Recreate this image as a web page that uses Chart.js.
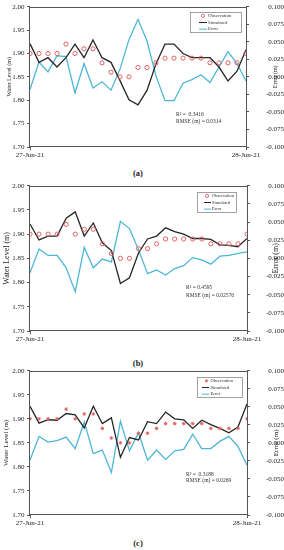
<!DOCTYPE html>
<html>
<head>
<meta charset="utf-8">
<script src="https://cdn.jsdelivr.net/npm/chart.js@4.4.1/dist/chart.umd.min.js"></script>
<style>
  html, body { margin: 0; padding: 0; background: #fff; }
  body { width: 284px; height: 550px; position: relative; overflow: hidden; font-family: 'Liberation Serif', serif; }
  canvas { position: absolute; left: 0; }
  .cap { position: absolute; left: 0; width: 276px; text-align: center; font-weight: bold; font-size: 8.5px; line-height: 10px; color: #222; }
</style>
</head>
<body>
<canvas id="chartA" width="284" height="160" style="top:0px"></canvas>
<div class="cap" style="top:168px">(a)</div>
<canvas id="chartB" width="284" height="165" style="top:179px"></canvas>
<div class="cap" style="top:358px">(b)</div>
<canvas id="chartC" width="284" height="164" style="top:364px"></canvas>
<div class="cap" style="top:538px">(c)</div>

<script>
// hourly steps over one day
const hours = [0, 1, 2, 3, 4, 5, 6, 7, 8, 9, 10, 11, 12, 13, 14, 15, 16, 17, 18, 19, 20, 21, 22, 23, 24];
const dateTicks = [0, 24];
const dateLabels = ['27-Jun-21', '28-Jun-21'];
const levelTicks = [1.70, 1.75, 1.80, 1.85, 1.90, 1.95, 2.00];
const errorTicks = [-0.100, -0.075, -0.050, -0.025, 0.000, 0.025, 0.050, 0.075, 0.100];

const observed = [1.90, 1.90, 1.90, 1.90, 1.92, 1.90, 1.91, 1.91, 1.88, 1.86, 1.85, 1.85, 1.87, 1.87, 1.88, 1.89, 1.89, 1.89, 1.89, 1.89, 1.88, 1.88, 1.88, 1.88, 1.90];

const simulatedA = [1.921, 1.881, 1.891, 1.871, 1.891, 1.920, 1.891, 1.929, 1.891, 1.881, 1.842, 1.801, 1.790, 1.821, 1.878, 1.920, 1.920, 1.900, 1.891, 1.891, 1.891, 1.871, 1.841, 1.862, 1.908];
const errorA = [-0.018, 0.021, 0.007, 0.030, 0.029, -0.023, 0.019, -0.016, -0.007, -0.019, 0.011, 0.053, 0.082, 0.051, 0.001, -0.034, -0.034, -0.009, -0.004, 0.003, -0.008, 0.014, 0.036, 0.019, -0.006];

const simulatedB = [1.921, 1.888, 1.896, 1.896, 1.933, 1.946, 1.896, 1.923, 1.882, 1.866, 1.798, 1.810, 1.861, 1.890, 1.896, 1.913, 1.905, 1.900, 1.891, 1.891, 1.889, 1.878, 1.877, 1.874, 1.891];
const errorB = [-0.020, 0.013, 0.004, 0.004, -0.013, -0.046, 0.015, -0.013, -0.001, -0.005, 0.051, 0.041, 0.012, -0.021, -0.016, -0.023, -0.014, -0.010, 0.001, -0.002, -0.008, 0.003, 0.004, 0.007, 0.009];

const simulatedC = [1.926, 1.891, 1.898, 1.897, 1.911, 1.908, 1.881, 1.926, 1.890, 1.902, 1.820, 1.861, 1.856, 1.894, 1.890, 1.914, 1.900, 1.898, 1.880, 1.897, 1.888, 1.880, 1.871, 1.883, 1.931];
const errorC = [-0.024, 0.009, 0.001, 0.003, 0.008, -0.008, 0.029, -0.015, -0.010, -0.041, 0.030, -0.011, 0.014, -0.024, -0.010, -0.023, -0.011, -0.009, 0.012, -0.008, -0.008, 0.002, 0.009, -0.005, -0.031];

const serif = "'Liberation Serif', 'Times New Roman', serif";
const obsColor = '#e06262';
const simColor = '#262626';
const errColor = '#4db6d6';

// frame, rotated axis titles, legend box and statistics text
const panelDecor = {
    id: 'panelDecor',
    afterDraw(chart, args, opts) {
        const ctx = chart.ctx;
        const a = chart.chartArea;
        ctx.save();

        ctx.strokeStyle = '#555';
        ctx.lineWidth = 1;
        ctx.strokeRect(Math.round(a.left) - 0.5, Math.round(a.top) + 0.5, Math.round(a.right - a.left) + 1, Math.round(a.bottom - a.top) - 1);

        ctx.fillStyle = '#222';
        ctx.textAlign = 'center';
        ctx.textBaseline = 'middle';
        ctx.font = opts.titleSize + 'px ' + serif;
        const cy = (a.top + a.bottom) / 2;
        [[opts.leftTitleX, 'Water Level (m)'], [opts.rightTitleX, 'Error (m)']].forEach(([x, text]) => {
            ctx.save();
            ctx.translate(x, cy);
            ctx.rotate(-Math.PI / 2);
            ctx.fillText(text, 0, 0);
            ctx.restore();
        });

        // legend inside the plot
        const L = opts.legend;
        ctx.fillStyle = '#fff';
        ctx.fillRect(L.x, L.y, L.w, L.h);
        ctx.strokeStyle = '#8a8a8a';
        ctx.lineWidth = 0.8;
        ctx.strokeRect(L.x + 0.5, L.y + 0.5, L.w, L.h);
        ctx.font = L.font + 'px ' + serif;
        ctx.textAlign = 'left';
        chart.data.datasets.forEach((ds, i) => {
            const y = L.y + L.h * (i + 0.5) / 3 + 0.5;
            if (ds.showLine === false) {
                ctx.strokeStyle = ds.pointBorderColor;
                ctx.fillStyle = ds.pointBackgroundColor;
                ctx.lineWidth = 0.9;
                Chart.helpers.drawPoint(ctx, { pointStyle: ds.pointStyle, radius: 1.6, borderWidth: 0.9, rotation: 0 }, L.x + L.mx, y);
            } else {
                ctx.strokeStyle = ds.borderColor;
                ctx.lineWidth = 1;
                ctx.beginPath();
                ctx.moveTo(L.x + L.l0, y);
                ctx.lineTo(L.x + L.l1, y);
                ctx.stroke();
            }
            ctx.fillStyle = '#333';
            ctx.fillText(ds.label, L.x + L.tx, y);
        });

        ctx.font = opts.statsSize + 'px ' + serif;
        ctx.fillStyle = '#333';
        opts.stats.forEach((line, i) => {
            ctx.fillText(line, opts.statsX, opts.statsY + i * opts.statsGap);
        });
        ctx.restore();
    }
};

function makePanel(canvasId, simulated, errors, cfg) {
    const canvas = document.getElementById(canvasId);
    if (!canvas) {
        return;
    }
    const toPoints = (vals) => hours.map((h, i) => ({ x: h, y: vals[i] }));

    new Chart(canvas.getContext('2d'), {
        type: 'line',
        data: {
            datasets: [{
                label: 'Observation',
                data: toPoints(observed),
                yAxisID: 'y',
                showLine: false,
                pointStyle: cfg.obsStyle,
                pointRadius: cfg.obsRadius,
                pointBorderWidth: 1,
                pointBorderColor: obsColor,
                pointBackgroundColor: cfg.obsStyle === 'circle' ? 'rgba(255,255,255,0)' : obsColor,
                order: 0
            }, {
                label: 'Simulated',
                data: toPoints(simulated),
                yAxisID: 'y',
                borderColor: simColor,
                borderWidth: 1.3,
                pointRadius: 0,
                tension: 0,
                order: 1
            }, {
                label: 'Error',
                data: toPoints(errors),
                yAxisID: 'y1',
                borderColor: errColor,
                borderWidth: 1.3,
                pointRadius: 0,
                tension: 0,
                order: 2
            }]
        },
        options: {
            responsive: false,
            animation: false,
            layout: { padding: { top: 6, left: 0, right: 0, bottom: 0 } },
            plugins: {
                legend: { display: false },
                tooltip: { enabled: false },
                panelDecor: cfg.decor
            },
            scales: {
                x: {
                    type: 'linear',
                    min: hours[0],
                    max: hours[hours.length - 1],
                    afterBuildTicks: (axis) => { axis.ticks = dateTicks.map(v => ({ value: v })); },
                    afterFit: (scale) => { scale.height = cfg.xHeight; },
                    border: { display: false },
                    grid: { drawOnChartArea: false, tickLength: 3, color: '#555', tickColor: '#555' },
                    ticks: {
                        autoSkip: false,
                        maxRotation: 0,
                        padding: 1,
                        color: '#222',
                        font: { family: serif, size: 7 },
                        callback: (v) => dateLabels[dateTicks.indexOf(v)]
                    }
                },
                y: {
                    position: 'left',
                    min: levelTicks[0],
                    max: levelTicks[levelTicks.length - 1],
                    afterBuildTicks: (axis) => { axis.ticks = levelTicks.map(v => ({ value: v })); },
                    afterFit: (scale) => { scale.width = cfg.leftWidth; },
                    border: { display: false },
                    grid: { drawOnChartArea: false, tickLength: 3, tickColor: '#555' },
                    ticks: {
                        padding: 2.5,
                        color: '#222',
                        font: { family: serif, size: 7 },
                        callback: (v) => v.toFixed(2)
                    }
                },
                y1: {
                    position: 'right',
                    min: errorTicks[0],
                    max: errorTicks[errorTicks.length - 1],
                    afterBuildTicks: (axis) => { axis.ticks = errorTicks.map(v => ({ value: v })); },
                    afterFit: (scale) => { scale.width = cfg.rightWidth; },
                    border: { display: false },
                    grid: { drawOnChartArea: false, tickLength: 3, tickColor: '#555' },
                    ticks: {
                        padding: 0,
                        crossAlign: 'far',
                        color: '#222',
                        font: { family: serif, size: 7 },
                        callback: (v) => (Math.abs(v) < 1e-9 ? 0 : v).toFixed(3)
                    }
                }
            }
        },
        plugins: [panelDecor]
    });
}

makePanel('chartA', simulatedA, errorA, {
    obsStyle: 'circle', obsRadius: 2.1, xHeight: 13, leftWidth: 30, rightWidth: 38,
    decor: {
        titleSize: 6, leftTitleX: 9, rightTitleX: 275.5,
        legend: { x: 190, y: 12, w: 51, h: 20, mx: 13, l0: 9, l1: 17, tx: 18, font: 4.8 },
        stats: ['R\u00B2 =  0.3416', 'RMSE (m) = 0.0314'], statsX: 176, statsY: 115, statsGap: 6.3, statsSize: 5.5
    }
});

makePanel('chartB', simulatedB, errorB, {
    obsStyle: 'circle', obsRadius: 2.1, xHeight: 13, leftWidth: 30, rightWidth: 37,
    decor: {
        titleSize: 8, leftTitleX: 6.5, rightTitleX: 276,
        legend: { x: 197, y: 13, w: 39, h: 20, mx: 10, l0: 7, l1: 14, tx: 15, font: 4.5 },
        stats: ['R\u00B2 = 0.4595', 'RMSE (m) = 0.02576'], statsX: 186, statsY: 109, statsGap: 7.5, statsSize: 5.5
    }
});

makePanel('chartC', simulatedC, errorC, {
    obsStyle: 'star', obsRadius: 1.8, xHeight: 13, leftWidth: 30, rightWidth: 37,
    decor: {
        titleSize: 7, leftTitleX: 6, rightTitleX: 276.5,
        legend: { x: 197, y: 13, w: 45, h: 20, mx: 9.5, l0: 5, l1: 12, tx: 13.5, font: 4.6 },
        stats: ['R\u00B2 =  0.3188', 'RMSE (m) = 0.0269'], statsX: 186, statsY: 110.5, statsGap: 6.5, statsSize: 5.5
    }
});
</script>
</body>
</html>
